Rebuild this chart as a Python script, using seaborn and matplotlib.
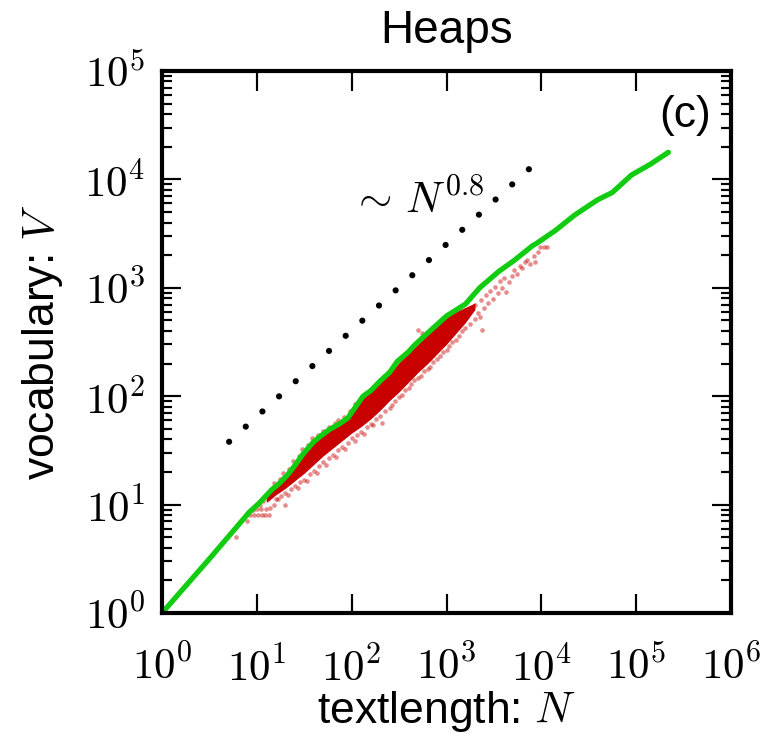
import matplotlib
matplotlib.use('Agg')
import matplotlib.pyplot as plt
import matplotlib.ticker as mticker
import numpy as np
import seaborn as sns

# green curve (log10 N, log10 V)
green_logN = [0.0, 0.5, 0.92, 1.02, 1.16, 1.23, 1.32, 1.40, 1.49, 1.60, 1.67, 1.76, 1.88, 1.96,
              2.04, 2.12, 2.20, 2.30, 2.40, 2.48, 2.60, 2.65, 2.76, 3.00, 3.20, 3.35, 3.55, 3.71,
              3.91, 3.95, 4.15, 4.35, 4.59, 4.75, 4.95, 5.15, 5.34]
green_logV = [0.0, 0.5, 0.93, 1.01, 1.14, 1.19, 1.27, 1.36, 1.47, 1.58, 1.63, 1.69, 1.75, 1.80,
              1.90, 2.00, 2.05, 2.14, 2.22, 2.32, 2.41, 2.46, 2.55, 2.74, 2.85, 3.00, 3.15, 3.25,
              3.39, 3.41, 3.53, 3.67, 3.81, 3.88, 4.04, 4.14, 4.25]

# dense part of the red cloud (log10 N, lower / upper log10 V)
core_logN = [1.1, 1.2, 1.3, 1.4, 1.5, 1.6, 1.7, 1.8, 1.9, 2.0, 2.1, 2.2, 2.3, 2.4, 2.5, 2.6,
             2.7, 2.8, 2.9, 3.0, 3.1, 3.2, 3.3]
core_lo = [1.02, 1.09, 1.15, 1.22, 1.29, 1.37, 1.45, 1.52, 1.59, 1.66, 1.72, 1.79, 1.87, 1.96,
           2.04, 2.13, 2.22, 2.30, 2.39, 2.48, 2.58, 2.68, 2.80]
core_hi = [1.08, 1.19, 1.27, 1.37, 1.48, 1.58, 1.66, 1.73, 1.78, 1.86, 1.97, 2.04, 2.13, 2.21,
           2.31, 2.40, 2.48, 2.57, 2.65, 2.73, 2.78, 2.82, 2.86]

# single points around the dense part (log10 N, log10 V)
pts_logN = [0.78, 0.90, 0.93, 0.97, 1.01, 1.05, 1.09, 1.13, 0.96, 1.00, 1.04, 1.10, 1.14, 1.18,
            1.30, 1.03, 1.07, 1.12, 1.15, 1.20,
            1.22, 1.26, 1.30, 1.33, 1.36, 1.40, 1.43, 1.46, 1.50, 1.53, 1.56, 1.60, 1.63, 1.66,
            1.70, 1.73, 1.76, 1.80, 1.83, 1.86, 1.90, 1.93, 1.96, 2.00, 2.03, 2.06, 2.10, 2.13,
            2.16, 2.20, 2.23, 2.26, 2.30, 2.32, 2.35, 2.40, 2.43, 2.46, 2.50, 2.53, 2.56, 2.60,
            2.63, 2.66, 2.70, 2.73, 2.76, 2.80, 2.83, 2.86, 2.90, 2.93, 2.96, 3.00, 3.03, 3.06,
            3.10, 3.13, 3.16, 3.20,
            1.18, 1.24, 1.28, 1.34, 1.38, 1.44, 1.48, 1.54, 1.58, 1.64, 1.70, 1.76, 1.82, 1.86,
            1.92, 1.98, 2.04,
            2.70, 2.74,
            3.22, 3.25, 3.27, 3.30, 3.30, 3.33, 3.35, 3.36, 3.37, 3.40, 3.42, 3.44, 3.46, 3.49,
            3.51, 3.54, 3.56, 3.59, 3.61, 3.63, 3.66, 3.69, 3.71, 3.74, 3.77, 3.80, 3.83, 3.85,
            3.88, 3.92, 3.93, 3.96, 3.99, 4.03, 4.06]
pts_logV = [0.70, 0.85, 0.90, 0.90, 0.90, 0.90, 0.90, 0.90, 0.95, 0.96, 0.96, 0.96, 0.97, 1.00,
            1.00, 1.00, 1.03, 1.05, 1.08, 1.05,
            1.05, 1.08, 1.11, 1.09, 1.14, 1.17, 1.15, 1.21, 1.23, 1.22, 1.28, 1.31, 1.29, 1.36,
            1.39, 1.37, 1.43, 1.46, 1.44, 1.50, 1.53, 1.51, 1.57, 1.61, 1.59, 1.64, 1.67, 1.65,
            1.72, 1.74, 1.73, 1.79, 1.82, 1.75, 1.86, 1.89, 1.92, 1.96, 1.99, 2.01, 2.06, 2.08,
            2.11, 2.15, 2.17, 2.19, 2.23, 2.25, 2.27, 2.32, 2.34, 2.37, 2.41, 2.43, 2.46, 2.50,
            2.52, 2.56, 2.60, 2.63,
            1.20, 1.24, 1.29, 1.33, 1.40, 1.45, 1.51, 1.55, 1.61, 1.64, 1.68, 1.72, 1.75, 1.78,
            1.81, 1.86, 1.93,
            2.61, 2.58,
            2.75, 2.67, 2.80, 2.71, 2.84, 2.77, 2.73, 2.89, 2.61, 2.81, 2.93, 2.86, 2.97, 2.90,
            3.01, 2.95, 3.06, 3.00, 3.09, 2.96, 3.05, 3.11, 3.16, 3.13, 3.20, 3.18, 3.24, 3.26,
            3.22, 3.29, 3.24, 3.33, 3.38, 3.38, 3.38]

# dotted guide line ~ N^0.8 (end points)
guide_N = [5.1, 7760]
guide_V = [38, 12900]

sns.set_style('ticks', {'axes.edgecolor': 'black', 'xtick.color': 'black',
                        'ytick.color': 'black', 'text.color': 'black',
                        'axes.labelcolor': 'black'})
plt.rcParams['font.family'] = ['Liberation Sans', 'DejaVu Sans']
plt.rcParams['mathtext.fontset'] = 'cm'
plt.rcParams['axes.axisbelow'] = False

fig = plt.figure(figsize=(7.66, 7.41), dpi=100)
ax = fig.add_axes([0.2115, 0.1727, 0.7428, 0.7315])

red = '#c80000'
ax.fill_between(10 ** np.array(core_logN), 10 ** np.array(core_lo), 10 ** np.array(core_hi),
                color=red, lw=0)
sns.scatterplot(x=10 ** np.array(pts_logN), y=10 ** np.array(pts_logV), ax=ax,
                color=red, s=11, alpha=0.45, linewidth=0)
sns.lineplot(x=10 ** np.array(green_logN), y=10 ** np.array(green_logV), ax=ax,
             color='#11cc11', lw=3.8, sort=False, estimator=None)
ax.plot(guide_N, guide_V, color='black', lw=4.5, linestyle=(0, (0.001, 3.6)),
        dash_capstyle='round')

ax.set_xscale('log')
ax.set_yscale('log')
ax.set_xlim(1, 1e6)
ax.set_ylim(1, 1e5)
pow_fmt = mticker.FuncFormatter(lambda v, p: r'$10^{%d}$' % round(np.log10(v)))
ax.xaxis.set_major_locator(mticker.LogLocator(base=10, numticks=10))
ax.yaxis.set_major_locator(mticker.LogLocator(base=10, numticks=10))
ax.xaxis.set_major_formatter(pow_fmt)
ax.yaxis.set_major_formatter(pow_fmt)
ax.xaxis.set_minor_formatter(mticker.NullFormatter())
ax.yaxis.set_minor_formatter(mticker.NullFormatter())

ax.set_xlabel('textlength: $N$', fontsize=32, labelpad=0)
ax.set_ylabel('vocabulary: $V$', fontsize=32, labelpad=14)
ax.set_title('Heaps', fontsize=33, pad=20)
ax.text(0.965, 0.955, '(c)', transform=ax.transAxes, ha='right', va='top', fontsize=32)
ax.text(10 ** 2.70, 10 ** 3.80, r'$\sim\,N^{0.8}$', ha='center', va='center', fontsize=31)

for s in ax.spines.values():
    s.set_linewidth(3)
    s.set_color('black')
    s.set_zorder(6)
ax.tick_params(which='both', direction='in', top=True, right=True, colors='black', labelsize=31)
ax.tick_params(which='major', length=14, width=1.5, pad=24)
ax.tick_params(which='minor', length=7, width=1.5)
ax.tick_params(axis='y', which='major', pad=12)

# inward tick marks on all four sides, taken from the axis locators
xmaj = [v for v in ax.xaxis.get_majorticklocs() if 1 <= v <= 1e6]
xmin = [v for v in ax.xaxis.get_minorticklocs() if 1 < v < 1e6]
ymaj = [v for v in ax.yaxis.get_majorticklocs() if 1 <= v <= 1e5]
ymin = [v for v in ax.yaxis.get_minorticklocs() if 1 < v < 1e5]
xt = ax.get_xaxis_transform()
yt = ax.get_yaxis_transform()
for locs, ln in [(xmaj, 0.036), (xmin, 0.018)]:
    ax.vlines(locs, 0, ln, transform=xt, color='black', lw=1.5, zorder=5, clip_on=False)
    ax.vlines(locs, 1 - ln, 1, transform=xt, color='black', lw=1.5, zorder=5, clip_on=False)
for locs, ln in [(ymaj, 0.034), (ymin, 0.017)]:
    ax.hlines(locs, 0, ln, transform=yt, color='black', lw=1.5, zorder=5, clip_on=False)
    ax.hlines(locs, 1 - ln, 1, transform=yt, color='black', lw=1.5, zorder=5, clip_on=False)
ax.set_xlim(1, 1e6)
ax.set_ylim(1, 1e5)

fig.savefig('out.png', dpi=100, facecolor='white')
